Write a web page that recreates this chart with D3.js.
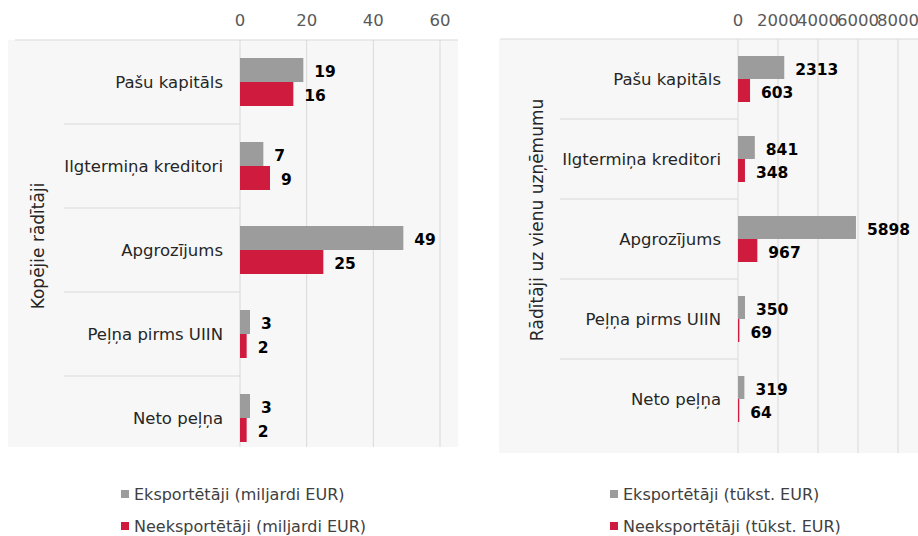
<!DOCTYPE html>
<html>
<head>
<meta charset="utf-8">
<script src="https://cdn.jsdelivr.net/npm/d3@7"></script>
<style>
  body { margin: 0; background: #fff; }
  svg text { font-family: "DejaVu Sans", sans-serif; }
  .tick-label { fill: #595959; font-size: 16.5px; }
  .cat-label { fill: #262626; font-size: 16.5px; }
  .val-label { fill: #000; font-size: 15.5px; font-weight: bold; }
  .axis-title { fill: #262626; font-size: 17px; }
  .legend-label { fill: #404040; font-size: 16px; }
</style>
</head>
<body>
<div id="container"></div>
<script>
const categories = ["Pašu kapitāls", "Ilgtermiņa kreditori", "Apgrozījums", "Peļņa pirms UIIN", "Neto peļņa"];
const totalExporters = [19, 7, 49, 3, 3];
const totalNonExporters = [16, 9, 25, 2, 2];
const perFirmExporters = [2313, 841, 5898, 350, 319];
const perFirmNonExporters = [603, 348, 967, 69, 64];
const totalTicks = [0, 20, 40, 60];
const perFirmTicks = [0, 2000, 4000, 6000, 8000];
const colors = ["#9c9c9c", "#cf1c3e"];

const svg = d3.select("#container")
    .append("svg")
    .attr("width", 918)
    .attr("height", 536);

function drawPanel(opts) {
    const g = svg.append("g");

    // plot background
    g.append("rect")
        .attr("x", opts.bgLeft)
        .attr("y", opts.top)
        .attr("width", opts.bgRight - opts.bgLeft)
        .attr("height", opts.bgBottom - opts.top)
        .attr("fill", "#f7f7f7");

    const x = d3.scaleLinear()
        .domain([0, d3.max(opts.ticks)])
        .range([opts.x0, opts.x1]);

    const y = d3.scaleBand()
        .domain(opts.categories)
        .range([opts.top, opts.top + opts.step * opts.categories.length])
        .paddingInner(0)
        .paddingOuter(0);

    // vertical gridlines
    g.selectAll("line.grid")
        .data(opts.ticks)
        .join("line")
        .attr("class", "grid")
        .attr("x1", d => x(d)).attr("x2", d => x(d))
        .attr("y1", opts.top).attr("y2", opts.bgBottom)
        .attr("stroke", "#d9d9d9");

    // top line
    g.append("line")
        .attr("x1", opts.topLineLeft).attr("x2", opts.bgRight)
        .attr("y1", opts.top).attr("y2", opts.top)
        .attr("stroke", "#d9d9d9");

    // category separators on the left
    g.selectAll("line.sep")
        .data(opts.categories.slice(1))
        .join("line")
        .attr("class", "sep")
        .attr("x1", opts.sepLeft).attr("x2", x(0))
        .attr("y1", d => y(d)).attr("y2", d => y(d))
        .attr("stroke", "#d9d9d9");

    // tick labels
    g.selectAll("text.tick-label")
        .data(opts.ticks)
        .join("text")
        .attr("class", "tick-label")
        .attr("x", d => x(d))
        .attr("y", 20)
        .attr("text-anchor", "middle")
        .attr("dominant-baseline", "central")
        .text(d => d);

    // category labels
    g.selectAll("text.cat-label")
        .data(opts.categories)
        .join("text")
        .attr("class", "cat-label")
        .attr("x", x(0) - 17)
        .attr("y", d => y(d) + y.bandwidth() / 2)
        .attr("text-anchor", "end")
        .attr("dominant-baseline", "central")
        .text(d => d);

    const series = [opts.a, opts.b];
    const half = opts.barH;
    series.forEach((vals, si) => {
        const data = opts.categories.map((c, i) => ({ c, v: vals[i] }));
        g.selectAll("rect.s" + si)
            .data(data)
            .join("rect")
            .attr("class", "s" + si)
            .attr("x", x(0))
            .attr("y", d => y(d.c) + y.bandwidth() / 2 - half + si * half)
            .attr("width", d => x(d.v) - x(0))
            .attr("height", half)
            .attr("fill", colors[si]);

        g.selectAll("text.v" + si)
            .data(data)
            .join("text")
            .attr("class", "val-label v" + si)
            .attr("x", d => x(d.v) + 11)
            .attr("y", d => y(d.c) + y.bandwidth() / 2 - half / 2 + si * half + 2)
            .attr("dominant-baseline", "central")
            .text(d => d.v);
    });

    // axis title
    g.append("text")
        .attr("class", "axis-title")
        .attr("transform", `translate(${opts.titleX},${opts.titleY}) rotate(-90)`)
        .attr("text-anchor", "middle")
        .attr("dominant-baseline", "central")
        .text(opts.title);

    // legend
    opts.legend.forEach((label, i) => {
        const ly = 494 + i * 32;
        g.append("rect")
            .attr("x", opts.legendX)
            .attr("y", ly - 4)
            .attr("width", 8)
            .attr("height", 8)
            .attr("fill", colors[i]);
        g.append("text")
            .attr("class", "legend-label")
            .attr("x", opts.legendX + 13)
            .attr("y", ly)
            .attr("dominant-baseline", "central")
            .text(label);
    });
}

drawPanel({
    categories,
    a: totalExporters,
    b: totalNonExporters,
    ticks: totalTicks,
    x0: 240, x1: 440,
    top: 40, step: 84, barH: 24,
    bgLeft: 8, bgRight: 458, bgBottom: 447,
    topLineLeft: 15, sepLeft: 64,
    title: "Kopējie rādītāji",
    titleX: 38, titleY: 246,
    legend: ["Eksportētāji (miljardi EUR)", "Neeksportētāji (miljardi EUR)"],
    legendX: 121
});

drawPanel({
    categories,
    a: perFirmExporters,
    b: perFirmNonExporters,
    ticks: perFirmTicks,
    x0: 738, x1: 898,
    top: 39, step: 80, barH: 23,
    bgLeft: 499, bgRight: 918, bgBottom: 453,
    topLineLeft: 500, sepLeft: 560,
    title: "Rādītāji uz vienu uzņēmumu",
    titleX: 537, titleY: 220,
    legend: ["Eksportētāji (tūkst. EUR)", "Neeksportētāji (tūkst. EUR)"],
    legendX: 610
});
</script>
</body>
</html>
